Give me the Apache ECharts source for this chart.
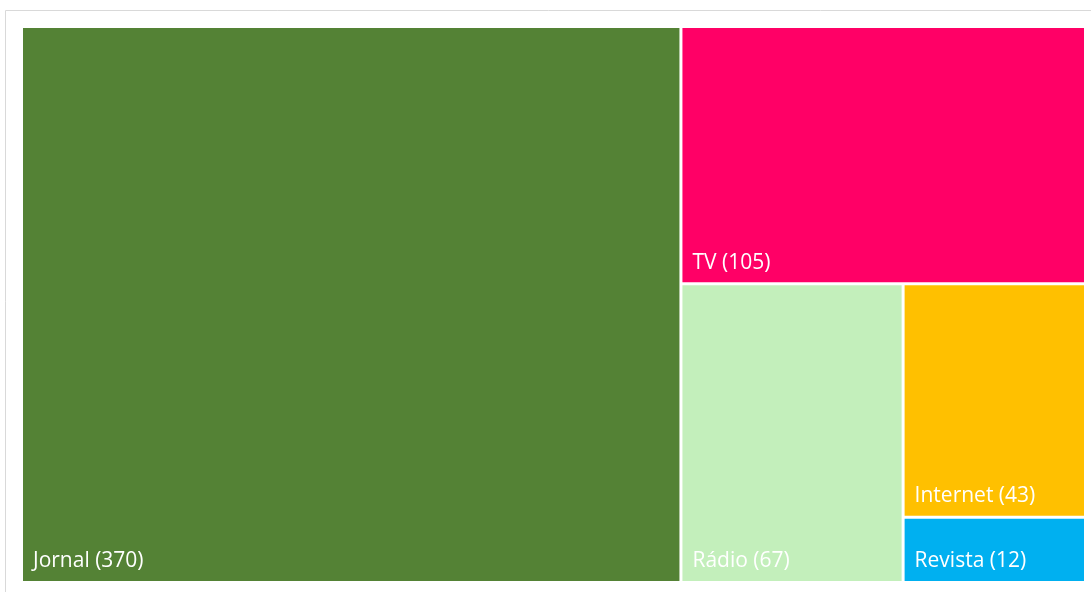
<!DOCTYPE html>
<html>
<head>
<meta charset="utf-8">
<script src="https://cdn.jsdelivr.net/npm/echarts@6/dist/echarts.min.js"></script>
<style>
html,body{margin:0;padding:0;background:#fff;}
#chart{width:1091px;height:592px;}
</style>
</head>
<body>
<div id="chart"></div>
<script>
const categories = ['Jornal', 'TV', 'Rádio', 'Internet', 'Revista'];
const values = [370, 105, 67, 43, 12];
const colors = ['#548235', '#FF0066', '#C3EFBB', '#FFC000', '#00B0F0'];

const chart = echarts.init(document.getElementById('chart'));
const data = categories.map((c, i) => ({
  name: c,
  value: values[i],
  itemStyle: { color: colors[i] }
}));

chart.setOption({
  animation: false,
  graphic: [{
    type: 'rect',
    shape: { x: 5.5, y: 10.5, width: 1200, height: 700 },
    style: { fill: 'none', stroke: '#d9d9d9', lineWidth: 1 },
    silent: true
  }],
  series: [{
    type: 'treemap',
    left: 23, top: 28, width: 1061, height: 553,
    roam: false,
    nodeClick: false,
    breadcrumb: { show: false },
    sort: 'desc',
    squareRatio: 1,
    levels: [{ itemStyle: { gapWidth: 3, borderWidth: 0, borderColor: '#fff' } }],
    itemStyle: { borderWidth: 0, gapWidth: 3, borderColor: '#fff' },
    label: {
      show: true,
      position: 'insideBottomLeft',
      distance: 9,
      padding: [0, 0, 0, 1],
      overflow: 'none',
      color: '#fff',
      fontFamily: 'Open Sans',
      fontSize: 21,
      formatter: p => p.name + ' (' + p.value + ')'
    },
    upperLabel: { show: false },
    data: data
  }]
});
</script>
</body>
</html>
